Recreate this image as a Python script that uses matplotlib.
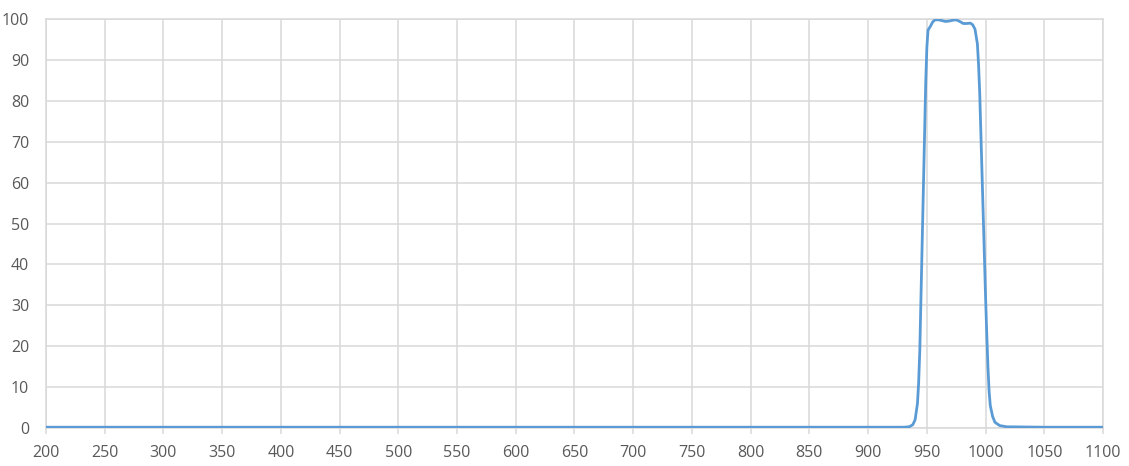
import matplotlib
matplotlib.use('Agg')
import matplotlib.pyplot as plt

# transmission spectrum (nm, %)
wavelength = [200, 300, 400, 500, 600, 700, 800, 900, 930, 935, 938, 940, 942, 943,
              944, 945, 946, 947, 948, 949, 950, 951, 953, 955, 957, 960, 963, 966,
              969, 972, 975, 978, 981, 984, 987, 989, 991, 993, 994, 995, 996, 997,
              998, 999, 1000, 1001, 1002, 1003, 1004, 1006, 1008, 1012, 1018, 1050, 1100]
transmission = [0.2, 0.2, 0.2, 0.2, 0.2, 0.2, 0.2, 0.2, 0.2, 0.3, 0.8, 2, 6, 11,
                19, 32, 45, 58, 71, 84, 93, 97.3, 98.2, 99.3, 99.8, 99.8, 99.6, 99.4,
                99.5, 99.7, 99.8, 99.4, 98.9, 98.9, 99.0, 98.6, 97.5, 94, 89, 82, 72, 62,
                52, 42, 32, 23, 15, 9, 5.5, 2.8, 1.4, 0.6, 0.3, 0.2, 0.2]

xticks = list(range(200, 1101, 50))
yticks = list(range(0, 101, 10))

grid_col = '#D9D9D9'
text_col = '#595959'

fig = plt.figure(figsize=(11.29, 4.66), dpi=100)
ax = fig.add_axes([0.0407, 0.0815, 0.9363, 0.8777])
ax.plot(wavelength, transmission, color='#5B9BD5', lw=2.0, zorder=3)

ax.set_xlim(200, 1100)
ax.set_ylim(0, 100)
ax.set_xticks(xticks)
ax.set_yticks(yticks)
ax.grid(True, color=grid_col, lw=1.1)
for s in ax.spines.values():
    s.set_color(grid_col)
    s.set_linewidth(1.1)
ax.tick_params(axis='x', length=4, width=1.1, color=grid_col, labelcolor=text_col,
               labelsize=11.5, pad=8)
ax.tick_params(axis='y', length=0, labelcolor=text_col, labelsize=11.5, pad=12)
for lab in ax.get_xticklabels() + ax.get_yticklabels():
    lab.set_fontfamily('Open Sans')

fig.savefig('out.png', dpi=100)
